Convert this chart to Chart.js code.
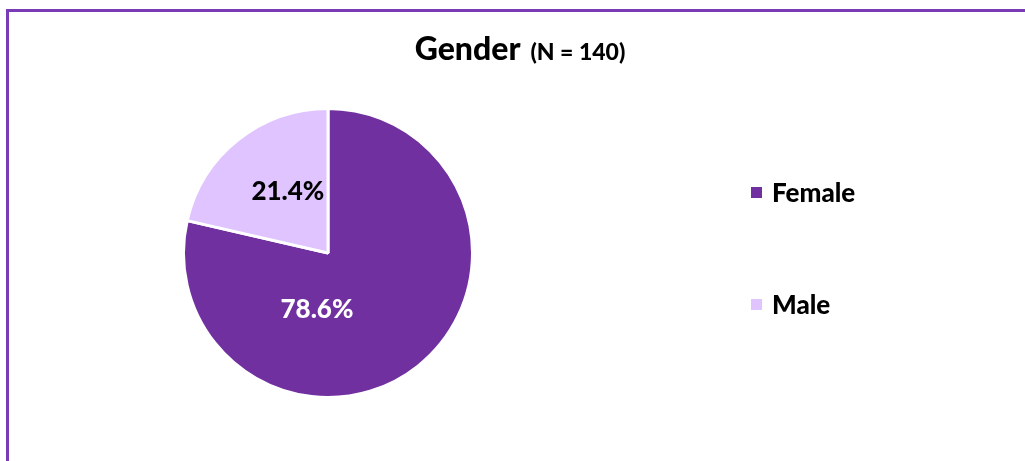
<!DOCTYPE html>
<html>
<head>
<meta charset="utf-8">
<script src="https://cdn.jsdelivr.net/npm/chart.js@4.4.1/dist/chart.umd.min.js"></script>
<style>
    html, body { margin: 0; padding: 0; background: #ffffff; }
    #frame {
        position: absolute; left: 6px; top: 9px; width: 1030px; height: 460px;
        border-top: 3px solid #7a3cb6; border-left: 3px solid #7a3cb6;
    }
    #wrap { position: absolute; left: 0; top: 0; width: 1025px; height: 461px; }
</style>
</head>
<body>
<div id="frame"></div>
<div id="wrap"><canvas id="gender-chart"></canvas></div>
<script>
const categories = ["Female", "Male"]
const percentages = [78.6, 21.4]
const sliceColors = ["#7030a0", "#e0c4ff"]
const labelColors = ["#ffffff", "#000000"]
const titleMain = "Gender"
const titleSub = "(N = 140)"

const fontFamily = "Lato, 'Open Sans', sans-serif"
const fontWeight = "900"

// title with two font sizes, centered over the frame
const titlePlugin = {
    id: "mixedTitle",
    afterDraw(chart) {
        const ctx = chart.ctx
        ctx.save()
        ctx.textBaseline = "alphabetic"
        ctx.fillStyle = "#000000"
        ctx.font = fontWeight + " 32px " + fontFamily
        const mainWidth = ctx.measureText(titleMain).width
        ctx.font = fontWeight + " 23px " + fontFamily
        const subWidth = ctx.measureText(titleSub).width
        const gap = 10
        const startX = 520 - (mainWidth + gap + subWidth) / 2
        ctx.font = fontWeight + " 32px " + fontFamily
        ctx.fillText(titleMain, startX, 60)
        ctx.font = fontWeight + " 23px " + fontFamily
        ctx.fillText(titleSub, startX + mainWidth + gap, 60)
        ctx.restore()
    }
}

// percentage labels placed like the original (angle clockwise from 12 o'clock, fraction of radius)
const sliceLabelPlugin = {
    id: "sliceLabels",
    afterDatasetsDraw(chart, args, opts) {
        const ctx = chart.ctx
        const meta = chart.getDatasetMeta(0)
        ctx.save()
        ctx.font = fontWeight + " 26px " + fontFamily
        ctx.textAlign = "center"
        ctx.textBaseline = "middle"
        meta.data.forEach((arc, i) => {
            const {x, y, outerRadius} = arc.getProps(["x", "y", "outerRadius"], true)
            const pos = opts.positions[i]
            const angle = pos.angle * Math.PI / 180
            const lx = x + Math.sin(angle) * outerRadius * pos.r
            const ly = y - Math.cos(angle) * outerRadius * pos.r
            ctx.fillStyle = labelColors[i]
            ctx.fillText(percentages[i].toFixed(1) + "%", lx, ly)
        })
        ctx.restore()
    }
}

// legend on the right, with wide spacing between entries
const legendPlugin = {
    id: "sideLegend",
    afterDraw(chart, args, opts) {
        const ctx = chart.ctx
        const area = chart.chartArea
        const centerY = (area.top + area.bottom) / 2 + opts.shift
        ctx.save()
        ctx.font = fontWeight + " 26px " + fontFamily
        ctx.textBaseline = "middle"
        categories.forEach((name, i) => {
            const cy = centerY + (i - (categories.length - 1) / 2) * opts.spacing
            ctx.fillStyle = sliceColors[i]
            ctx.fillRect(opts.x, cy - 6, 11, 11)
            ctx.fillStyle = "#000000"
            ctx.fillText(name, opts.x + 21, cy + 1)
        })
        ctx.restore()
    }
}

new Chart(document.getElementById("gender-chart"), {
    type: "pie",
    data: {
        labels: categories,
        datasets: [{
            data: percentages,
            backgroundColor: sliceColors,
            borderColor: "#ffffff",
            borderWidth: 3
        }]
    },
    options: {
        responsive: true,
        maintainAspectRatio: false,
        animation: false,
        layout: {
            padding: { left: 182, right: 551, top: 107, bottom: 62 }
        },
        plugins: {
            legend: { display: false },
            tooltip: { enabled: false },
            sliceLabels: {
                positions: [{angle: 191, r: 0.40}, {angle: 327, r: 0.51}]
            },
            sideLegend: { x: 751, spacing: 112, shift: -4 }
        }
    },
    plugins: [titlePlugin, sliceLabelPlugin, legendPlugin]
})
</script>
</body>
</html>
